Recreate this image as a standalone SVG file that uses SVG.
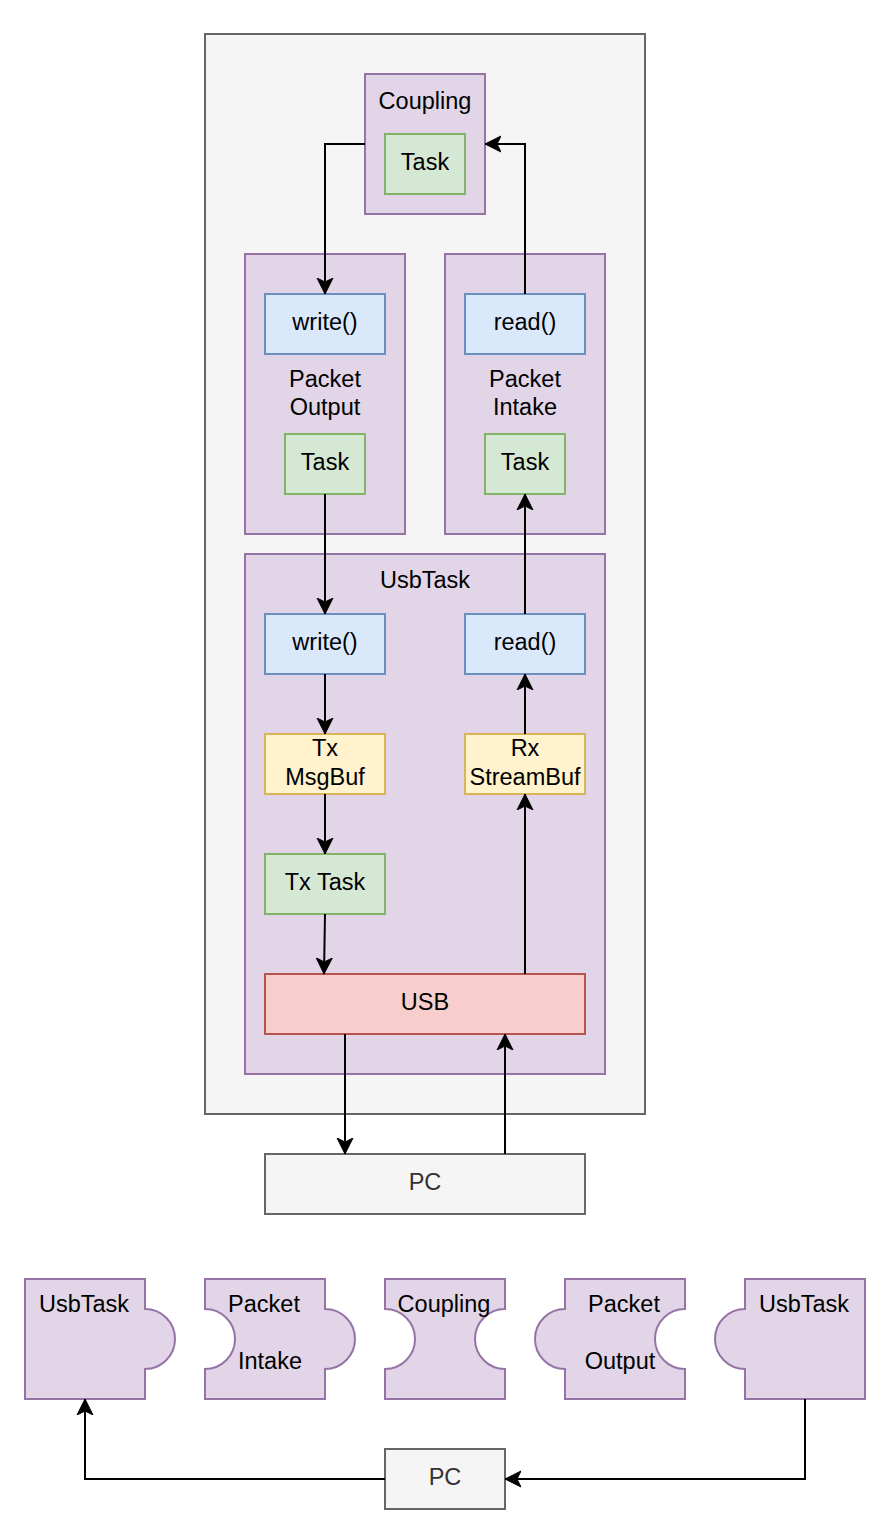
<svg xmlns="http://www.w3.org/2000/svg" width="894" height="1538" viewBox="0 0 894 1538">
<defs>
<marker id="arr" markerUnits="userSpaceOnUse" markerWidth="20" markerHeight="20" refX="16" refY="8" orient="auto" viewBox="0 0 20 16">
<path d="M0,0 L16,8 L0,16 L4,8 Z" fill="#000" stroke="#000" stroke-width="1"/>
</marker>
<style>
text{font-family:"Liberation Sans",Arial,Helvetica,sans-serif;font-size:23.5px;fill:#000;text-anchor:middle}
.grey{fill:#f5f5f5;stroke:#666666;stroke-width:2}
.purple{fill:#e1d5e7;stroke:#9673a6;stroke-width:2}
.green{fill:#d5e8d4;stroke:#82b366;stroke-width:2}
.blue{fill:#dae8fc;stroke:#6c8ebf;stroke-width:2}
.yellow{fill:#fff2cc;stroke:#d6b656;stroke-width:2}
.red{fill:#f8cecc;stroke:#b85450;stroke-width:2}
.pc{fill:#333333}
.edge{fill:none;stroke:#000;stroke-width:2;marker-end:url(#arr)}
</style>
</defs>
<rect width="894" height="1538" fill="#ffffff"/>

<g id="container"><rect class="grey" x="205" y="34" width="440" height="1080"/></g>

<g id="coupling">
<rect class="purple" x="365" y="74" width="120" height="140"/>
<text x="425" y="109">Coupling</text>
</g>
<g id="coupling-task">
<rect class="green" x="385" y="134" width="80" height="60"/>
<text x="425" y="170">Task</text>
</g>

<g id="packet-output">
<rect class="purple" x="245" y="254" width="160" height="280"/>
<text x="325" y="387">Packet</text>
<text x="325" y="415">Output</text>
</g>
<g id="po-write">
<rect class="blue" x="265" y="294" width="120" height="60"/>
<text x="325" y="330">write()</text>
</g>
<g id="po-task">
<rect class="green" x="285" y="434" width="80" height="60"/>
<text x="325" y="470">Task</text>
</g>

<g id="packet-intake">
<rect class="purple" x="445" y="254" width="160" height="280"/>
<text x="525" y="387">Packet</text>
<text x="525" y="415">Intake</text>
</g>
<g id="pi-read">
<rect class="blue" x="465" y="294" width="120" height="60"/>
<text x="525" y="330">read()</text>
</g>
<g id="pi-task">
<rect class="green" x="485" y="434" width="80" height="60"/>
<text x="525" y="470">Task</text>
</g>

<g id="usbtask">
<rect class="purple" x="245" y="554" width="360" height="520"/>
<text x="425" y="588">UsbTask</text>
</g>
<g id="ut-write">
<rect class="blue" x="265" y="614" width="120" height="60"/>
<text x="325" y="650">write()</text>
</g>
<g id="ut-read">
<rect class="blue" x="465" y="614" width="120" height="60"/>
<text x="525" y="650">read()</text>
</g>
<g id="tx-msgbuf">
<rect class="yellow" x="265" y="734" width="120" height="60"/>
<text x="325" y="756">Tx</text>
<text x="325" y="785">MsgBuf</text>
</g>
<g id="rx-streambuf">
<rect class="yellow" x="465" y="734" width="120" height="60"/>
<text x="525" y="756">Rx</text>
<text x="525" y="785">StreamBuf</text>
</g>
<g id="tx-task">
<rect class="green" x="265" y="854" width="120" height="60"/>
<text x="325" y="890">Tx Task</text>
</g>
<g id="usb">
<rect class="red" x="265" y="974" width="320" height="60"/>
<text x="425" y="1010">USB</text>
</g>

<g id="pc">
<rect class="grey" x="265" y="1154" width="320" height="60"/>
<text class="pc" x="425" y="1190">PC</text>
</g>

<g id="piece-usbtask-1">
<path class="purple" d="M25,1279 H145 V1309 A30,30 0 0 1 145,1369 V1399 H25 Z"/>
<text x="84" y="1312">UsbTask</text>
</g>
<g id="piece-packet-intake">
<path class="purple" d="M205,1279 H325 V1309 A30,30 0 0 1 325,1369 V1399 H205 V1369 A30,30 0 0 0 205,1309 Z"/>
<text x="264" y="1312">Packet</text>
<text x="270" y="1369">Intake</text>
</g>
<g id="piece-coupling">
<path class="purple" d="M385,1279 H505 V1309 A30,30 0 0 0 505,1369 V1399 H385 V1369 A30,30 0 0 0 385,1309 Z"/>
<text x="444" y="1312">Coupling</text>
</g>
<g id="piece-packet-output">
<path class="purple" d="M565,1279 H685 V1309 A30,30 0 0 0 685,1369 V1399 H565 V1369 A30,30 0 0 1 565,1309 Z"/>
<text x="624" y="1312">Packet</text>
<text x="620" y="1369">Output</text>
</g>
<g id="piece-usbtask-2">
<path class="purple" d="M745,1279 H865 V1399 H745 V1369 A30,30 0 0 1 745,1309 Z"/>
<text x="804" y="1312">UsbTask</text>
</g>

<g id="pc-bottom">
<rect class="grey" x="385" y="1449" width="120" height="60"/>
<text class="pc" x="445" y="1485">PC</text>
</g>

<g id="connectors">
<path class="edge" d="M365,144 H325 V294"/>
<path class="edge" d="M525,294 V144 H485"/>
<path class="edge" d="M325,494 V614"/>
<path class="edge" d="M525,614 V494"/>
<path class="edge" d="M325,674 V734"/>
<path class="edge" d="M325,794 V854"/>
<path class="edge" d="M325,914 L324,974"/>
<path class="edge" d="M525,974 V794"/>
<path class="edge" d="M525,734 V674"/>
<path class="edge" d="M345,1034 V1154"/>
<path class="edge" d="M505,1154 V1034"/>
<path class="edge" d="M385,1479 H85 V1399"/>
<path class="edge" d="M805,1399 V1479 H505"/>
</g>
</svg>
